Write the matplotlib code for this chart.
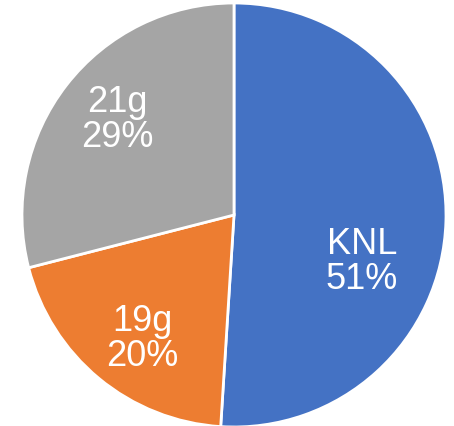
import matplotlib
matplotlib.use("Agg")
import matplotlib.pyplot as plt

labels = ["KNL", "19g", "21g"]
shares = [51, 20, 29]
colors = ["#4472C4", "#ED7D31", "#A5A5A5"]
# label centres in pie-radius units (as placed by the original's "best fit")
label_xy = [(0.604, -0.219), (-0.432, -0.580), (-0.550, 0.455)]

plt.rcParams["font.family"] = ["Liberation Sans", "DejaVu Sans"]

fig = plt.figure(figsize=(4.54, 4.27), dpi=100)
ax = fig.add_axes([22 / 454, -1 / 427, 424 / 454, 424 / 427])

idx = iter(range(len(labels)))


def fmt(pct):
    i = next(idx)
    return "%s\n%d%%" % (labels[i], round(pct))


wedges, texts, autotexts = ax.pie(
    shares, colors=colors, startangle=90, counterclock=False,
    autopct=fmt, pctdistance=0.70,
    wedgeprops=dict(edgecolor="white", linewidth=2),
    textprops=dict(color="white", fontsize=26, linespacing=1.0),
)
for t, xy in zip(autotexts, label_xy):
    t.set_position(xy)

ax.set_aspect("equal")
ax.set_xlim(-1.0, 1.0)
ax.set_ylim(-1.0, 1.0)

fig.savefig("out.png", dpi=100)
